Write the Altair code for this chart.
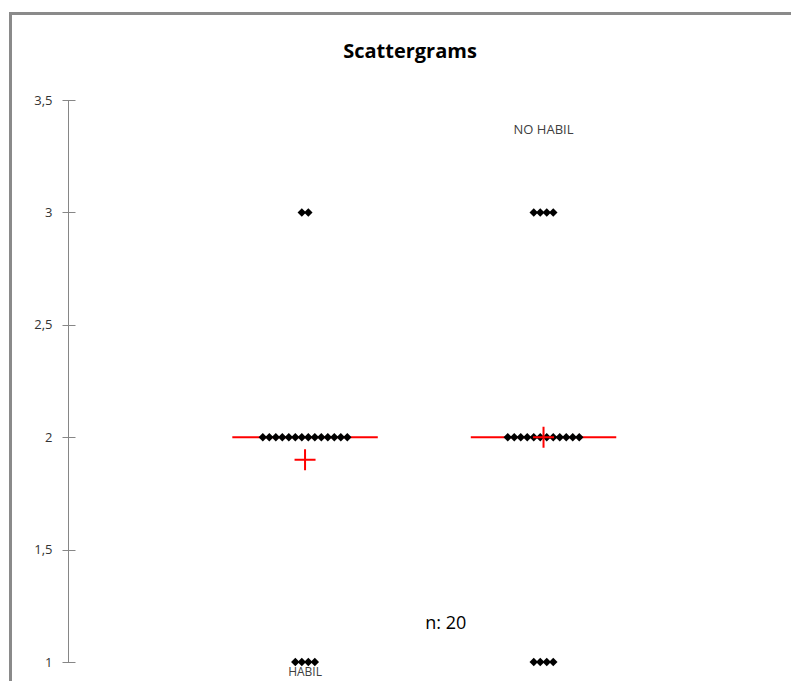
import altair as alt
import pandas as pd

# ---- data ----
groups = ["HABIL", "NO HABIL"]
group_pos = [1, 2]
levels = [3, 2, 1]
counts = {"HABIL": [2, 14, 4], "NO HABIL": [4, 12, 4]}
means = [1.9, 2.0]
medians = [2.0, 2.0]
y_ticks = [1, 1.5, 2, 2.5, 3, 3.5]
n_text = "n: 20"
title_text = "Scattergrams"

W, H = 714, 562
X_DOMAIN = [0.006, 3.0]
step = 6.5 / (W / (X_DOMAIN[1] - X_DOMAIN[0]))  # dot spacing in x-data units

rows = []
for g, gp in zip(groups, group_pos):
    for lv, c in zip(levels, counts[g]):
        for i in range(c):
            rows.append({"group": g, "x": gp + (i - (c - 1) / 2) * step, "y": lv})
dots = pd.DataFrame(rows)

half = 0.305
stats = pd.DataFrame({
    "group": groups,
    "x": group_pos,
    "x0": [p - half for p in group_pos],
    "x1": [p + half for p in group_pos],
    "mean": means,
    "median": medians,
})

low_label = pd.DataFrame({"text": ["HABIL"], "x": [1], "y": [1.0]})
high_label = pd.DataFrame({"text": ["NO HABIL"], "x": [2], "y": [3.5]})
ntext = pd.DataFrame({"text": [n_text], "x": [1.59], "y": [1.17]})

xs = alt.Scale(domain=X_DOMAIN, nice=False, zero=False)
ys = alt.Scale(domain=[1, 3.5], nice=False, zero=False)

FONT = "Open Sans"
AX = "#868686"

base_x = alt.X("x:Q", scale=xs, axis=None)

points = alt.Chart(dots).mark_point(
    shape="diamond", filled=True, color="black", size=72, opacity=1
).encode(
    x=base_x,
    y=alt.Y("y:Q", scale=ys, title=None,
            axis=alt.Axis(values=y_ticks, domain=False, grid=False, offset=-7,
                          tickSize=13, tickColor=AX, tickWidth=1,
                          labelPadding=10, labelFont=FONT, labelFontSize=13,
                          labelColor="#333333",
                          labelExpr="replace(format(datum.value, ''), '.', ',')")),
)

median_rule = alt.Chart(stats).mark_rule(color="#ff0000", strokeWidth=2).encode(
    x=alt.X("x0:Q", scale=xs, axis=None), x2="x1:Q", y=alt.Y("median:Q", scale=ys)
)

mean_cross = alt.Chart(stats).mark_point(
    shape="M-1,0L1,0M0,-1L0,1", filled=False, color="#ff0000",
    strokeWidth=2, size=441, opacity=1
).encode(x=base_x, y=alt.Y("mean:Q", scale=ys))

habil_text = alt.Chart(low_label).mark_text(
    font=FONT, fontSize=12, color="#404040", baseline="middle", dy=10
).encode(x=base_x, y=alt.Y("y:Q", scale=ys), text="text:N")

nohabil_text = alt.Chart(high_label).mark_text(
    font=FONT, fontSize=13, color="#404040", baseline="middle", dy=30
).encode(x=base_x, y=alt.Y("y:Q", scale=ys), text="text:N")

n_label = alt.Chart(ntext).mark_text(
    font=FONT, fontSize=18, color="black", baseline="middle"
).encode(x=base_x, y=alt.Y("y:Q", scale=ys), text="text:N")

title = alt.Chart(pd.DataFrame({"text": [title_text]})).mark_text(
    font=FONT, fontSize=20, fontWeight="bold", color="black", baseline="middle"
).encode(x=alt.value(W / 2 - 15), y=alt.value(-48), text="text:N")

axis_line = alt.Chart(pd.DataFrame({"a": [1], "b": [3.5]})).mark_rule(
    color=AX, strokeWidth=1
).encode(x=alt.value(0.5), y=alt.Y("a:Q", scale=ys), y2="b:Q")

frame_left = alt.Chart(pd.DataFrame({"k": [0]})).mark_rule(
    color="#8a8a8a", strokeWidth=3
).encode(x=alt.value(-57.5), y=alt.value(-88), y2=alt.value(640))

frame_top = alt.Chart(pd.DataFrame({"k": [0]})).mark_rule(
    color="#8a8a8a", strokeWidth=3
).encode(x=alt.value(-59), x2=alt.value(760), y=alt.value(-86.5))

chart = alt.layer(
    frame_left, frame_top, axis_line, median_rule, points, mean_cross,
    habil_text, nohabil_text, n_label, title
).properties(
    width=W, height=H,
    autosize=alt.AutoSizeParams(type="none"),
    padding={"left": 60, "top": 92, "right": 9, "bottom": 19},
).configure_view(stroke=None)

chart.save("out.html", embed_options={"renderer": "svg", "actions": False})
